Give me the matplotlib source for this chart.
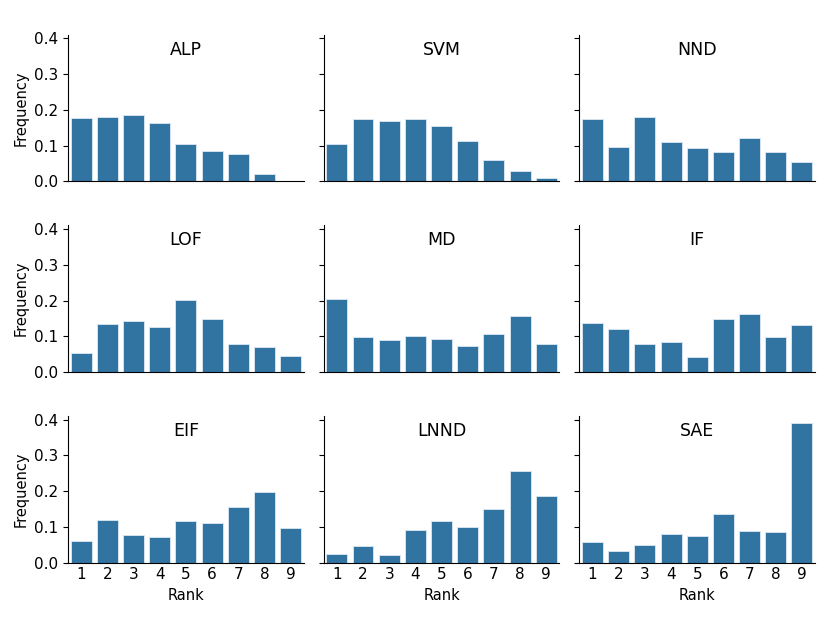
import numpy as np
import matplotlib
matplotlib.use("Agg")
import matplotlib.pyplot as plt

# ── Data ───────────────────────────────────────────────────────────────────────
ranks = [1, 2, 3, 4, 5, 6, 7, 8, 9]
methods = ["ALP", "SVM", "NND", "LOF", "MD", "IF", "EIF", "LNND", "SAE"]

alp  = [0.178, 0.180, 0.186, 0.163, 0.106, 0.085, 0.078, 0.021, 0.000]
svm  = [0.106, 0.174, 0.170, 0.176, 0.156, 0.114, 0.059, 0.030, 0.011]
nnd  = [0.174, 0.097, 0.179, 0.109, 0.094, 0.082, 0.121, 0.082, 0.055]
lof  = [0.053, 0.133, 0.144, 0.127, 0.201, 0.148, 0.078, 0.069, 0.046]
md   = [0.205, 0.099, 0.090, 0.100, 0.091, 0.073, 0.107, 0.157, 0.079]
iff  = [0.138, 0.120, 0.078, 0.083, 0.042, 0.148, 0.162, 0.098, 0.131]
eif  = [0.059, 0.119, 0.078, 0.071, 0.117, 0.112, 0.156, 0.197, 0.097]
lnnd = [0.025, 0.046, 0.022, 0.090, 0.117, 0.099, 0.150, 0.257, 0.187]
sae  = [0.058, 0.032, 0.050, 0.079, 0.074, 0.136, 0.089, 0.086, 0.390]

series = [alp, svm, nnd, lof, md, iff, eif, lnnd, sae]

BAR_COLOR = "#3274a1"

fig, axes = plt.subplots(3, 3, figsize=(8.3, 6.23), dpi=100,
                         sharex=True, sharey=True)
fig.subplots_adjust(left=0.082, right=0.982, top=0.944, bottom=0.097,
                    wspace=0.085, hspace=0.30)

x = np.arange(len(ranks))
for i, (ax, name, vals) in enumerate(zip(axes.flat, methods, series)):
    ax.bar(x, vals, width=0.8, color=BAR_COLOR, edgecolor="#dce8f2",
           linewidth=0.6)
    ax.text(0.5, 0.9, name, transform=ax.transAxes, ha="center",
            va="center", fontsize=12.5)
    ax.spines["top"].set_visible(False)
    ax.spines["right"].set_visible(False)
    ax.set_xlim(-0.5, 8.5)
    ax.set_ylim(0, 0.41)
    ax.set_yticks([0.0, 0.1, 0.2, 0.3, 0.4])
    ax.tick_params(axis="y", length=3.5, labelsize=11)
    ax.tick_params(axis="x", length=0, labelsize=11)
    if i % 3 == 0:
        ax.set_ylabel("Frequency", fontsize=10.5)
    if i >= 6:
        ax.set_xticks(x)
        ax.set_xticklabels([str(r) for r in ranks])
        ax.set_xlabel("Rank", fontsize=10.5)

plt.savefig("out.png", dpi=100)
